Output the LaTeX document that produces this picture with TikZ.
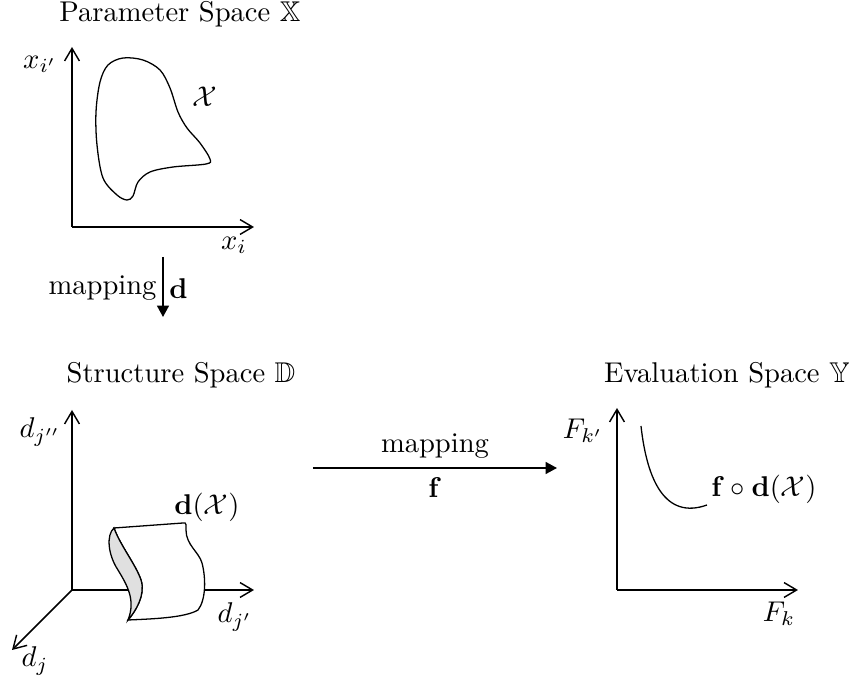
\documentclass[tikz,border=0pt]{standalone}
\usepackage{amsmath,amssymb}
\usetikzlibrary{arrows.meta}
\begin{document}
\begin{tikzpicture}[x=0.35pt,y=-0.35pt,
  axis/.style={line width=0.55pt,-{Straight Barb[length=4.4pt,width=5.2pt,line width=0.5pt]}},
  maparrow/.style={line width=0.55pt,-{Triangle[length=4pt,width=4.2pt]}},
  curve/.style={line width=0.45pt},
  lbl/.style={inner sep=1pt},
  ttl/.style={inner sep=0pt,anchor=base}]
\useasboundingbox (0,0) rectangle (856,684);
% ---------- titles
\node[ttl] (t1) at (180,22) {Parameter Space $\mathbb{X}$};
\node[ttl] (t2) at (181,382) {Structure Space $\mathbb{D}$};
\node[ttl] (t3) at (727,382) {Evaluation Space $\mathbb{Y}$};
% ---------- parameter space
\coordinate (o1) at (72,227);
\coordinate (y1) at (72,47);
\coordinate (x1) at (254,227);
\draw[axis] (o1) -- (y1);
\draw[axis] (o1) -- (x1);
\node[lbl] (lxip) at (40,64) {$x_{i'}$};
\node[lbl] (lxi) at (234,245) {$x_i$};
\node[lbl] (lX) at (205,97) {$\mathcal{X}$};
\draw[curve] plot[smooth cycle,tension=0.55] coordinates {
 (123,58) (143,60) (160,70) (170,88) (178,112) (187,128) (200,143)
 (210,159) (206,164) (173,167) (150,172) (138,182) (133,196) (127,200)
 (117,195) (103,178) (97,145) (96,112) (100,82) (108,65)};
% ---------- mapping d
\coordinate (md1) at (163,257);
\coordinate (md2) at (163,317);
\draw[maparrow] (md1) -- (md2)
  node[pos=0.52,left,inner sep=2pt] (lmapd) {mapping}
  node[pos=0.52,right,inner sep=2pt] (ld) {$\mathbf{d}$};
% ---------- structure space
\coordinate (o2) at (72,590);
\coordinate (y2) at (72,410);
\coordinate (x2) at (254,590);
\coordinate (z2) at (12,650);
\draw[axis] (o2) -- (y2);
\draw[axis] (o2) -- (x2);
\draw[axis] (o2) -- (z2);
\node[lbl] (ldjpp) at (40,432) {$d_{j''}$};
\node[lbl] (ldjp) at (235,617) {$d_{j'}$};
\node[lbl] (ldj) at (35,661) {$d_j$};
\node[lbl] (ldX) at (207,507) {$\mathbf{d}(\mathcal{X})$};
% surface: front face
\coordinate (sa) at (114,528);
\coordinate (sc) at (128,620);
\draw[curve,fill=white] (sa) -- (183,523)
  .. controls (187,522) and (186,526) .. (186,530)
  .. controls (186,545) and (199,552) .. (202,563)
  .. controls (206,578) and (206,600) .. (198,610)
  .. controls (185,618) and (150,619) .. (sc)
  .. controls (135,612) and (146,595) .. (141,580)
  .. controls (136,565) and (120,545) .. (sa) -- cycle;
% shaded side
\draw[curve,fill=black!12] (sa)
  .. controls (106,535) and (108,555) .. (118,570)
  .. controls (127,585) and (136,600) .. (sc)
  .. controls (135,612) and (146,595) .. (141,580)
  .. controls (136,565) and (120,545) .. (sa) -- cycle;
% ---------- mapping f
\coordinate (mf1) at (313,468);
\coordinate (mf2) at (557,468);
\draw[maparrow] (mf1) -- (mf2)
  node[midway,above,inner sep=3pt] (lmapf) {mapping}
  node[midway,below,inner sep=3pt] (lf) {$\mathbf{f}$};
% ---------- evaluation space
\coordinate (o3) at (617,590);
\coordinate (y3) at (617,408);
\coordinate (x3) at (798,590);
\draw[axis] (o3) -- (y3);
\draw[axis] (o3) -- (x3);
\node[lbl] (lFkp) at (583,431) {$F_{k'}$};
\node[lbl] (lFk) at (779,614) {$F_k$};
\node[lbl] (lfd) at (764,489) {$\mathbf{f}\circ\mathbf{d}(\mathcal{X})$};
\coordinate (c1) at (641,426);
\coordinate (c2) at (707,505);
\draw[curve] (c1) .. controls (647,480) and (665,520) .. (c2);
\end{tikzpicture}
\end{document}
